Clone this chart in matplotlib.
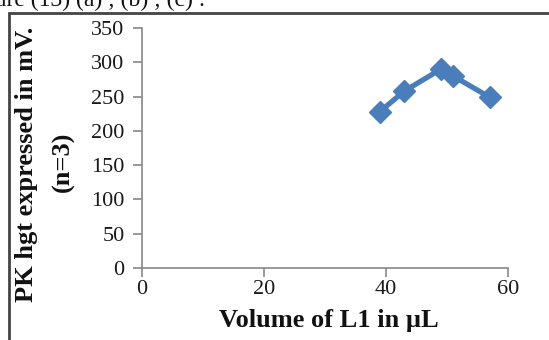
import matplotlib
matplotlib.use("Agg")
import matplotlib.pyplot as plt
from matplotlib.patches import Rectangle

volume_ul = [39, 43, 49, 51, 57]
pk_height_mv = [228, 258, 290, 280, 249]
x_ticks = [0, 20, 40, 60]
y_ticks = [0, 50, 100, 150, 200, 250, 300, 350]

W, H = 549, 340
fig = plt.figure(figsize=(W / 100, H / 100), dpi=100)
serif = ["Liberation Serif", "DejaVu Serif"]

# axes in pixel coordinates: left 142, right 508, top 28, bottom 268
ax = fig.add_axes([142 / W, 1 - 268 / H, (508 - 142) / W, (268 - 28) / H])
ax.plot(volume_ul, pk_height_mv, color="#4a7ebb", linewidth=3.8,
        marker="D", markersize=11, markeredgecolor="#4a7ebb",
        markerfacecolor="#4a7ebb")
ax.set_xlim(0, 60)
ax.set_ylim(0, 350)
ax.set_xticks(x_ticks)
ax.set_yticks(y_ticks)
for s in ["top", "right"]:
    ax.spines[s].set_visible(False)
for s in ["left", "bottom"]:
    ax.spines[s].set_color("#888888")
    ax.spines[s].set_linewidth(1.2)
ax.tick_params(axis="both", direction="out", length=6.5, width=1.2,
               color="#888888", labelsize=16, labelcolor="#1a1a1a")
ax.tick_params(axis="y", pad=6)
ax.tick_params(axis="x", pad=2)
for lab in ax.get_xticklabels() + ax.get_yticklabels():
    lab.set_fontfamily(serif)

fig.text(329 / W, 1 - 321 / H, "Volume of L1 in \u00b5L", ha="center", va="center",
         fontsize=19, fontweight="bold", family=serif, color="#111111")
fig.text(27 / W, 1 - 164 / H, "PK hgt expressed in mV.", ha="center", va="center",
         rotation=90, fontsize=19, fontweight="bold", family=serif, color="#111111")
fig.text(63 / W, 1 - 162 / H, "(n=3)", ha="center", va="center",
         rotation=90, fontsize=19, fontweight="bold", family=serif, color="#111111")

# outer frame
fig.patches.append(Rectangle((9 / W, -0.1), 1.2, 1 - 13 / H + 0.1,
                             transform=fig.transFigure, fill=False,
                             edgecolor="#444444", linewidth=2))
# cropped caption at top
fig.text(205 / W, 1 - 6 / H, "Figure (13) (a) ; (b) ; (c) :", ha="right",
         va="baseline", fontsize=17, family=serif, color="#111111")

fig.savefig("out.png", dpi=100)
